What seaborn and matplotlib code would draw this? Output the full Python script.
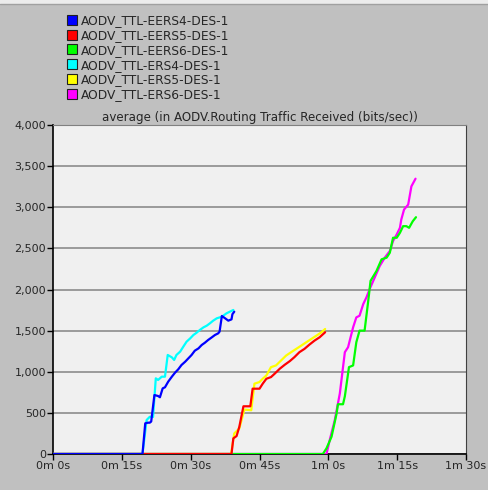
import numpy as np
import pandas as pd
import matplotlib
matplotlib.use("Agg")
import matplotlib.pyplot as plt
import seaborn as sns
from matplotlib.lines import Line2D
from matplotlib.ticker import FuncFormatter

# ── DATA (time in seconds, bits/sec) ──────────────────────────────
eers4_t = [0, 19.5, 20.1, 20.6, 21.1, 21.4, 22.1, 22.9, 23.3, 23.9, 24.4, 25.1, 25.9, 26.6, 27.3,
           28.0, 28.8, 29.5, 30.2, 30.9, 31.7, 32.4, 33.1, 33.8, 34.6, 35.3, 36.0, 36.3, 36.8,
           37.5, 38.2, 38.9, 39.1, 39.5]
eers4_v = [0, 0, 373, 380, 381, 395, 717, 705, 690, 798, 811, 879, 940, 989, 1030,
           1082, 1122, 1163, 1204, 1256, 1284, 1325, 1353, 1386, 1418, 1447, 1467, 1488, 1678,
           1650, 1621, 1637, 1700, 1730]

eers5_t = [0, 38.9, 39.3, 40.0, 40.6, 41.5, 43.0, 43.5, 45.0, 45.7, 46.5, 47.5, 48.3, 49.4,
           50.5, 51.6, 52.6, 53.7, 54.8, 55.9, 57.0, 58.1, 59.3]
eers5_v = [0, 0, 190, 218, 330, 580, 580, 794, 794, 855, 915, 935, 976, 1036,
           1085, 1129, 1177, 1238, 1278, 1331, 1379, 1419, 1480]

eers6_t = [0, 58.8, 59.6, 60.7, 61.8, 62.1, 63.2, 63.6, 64.5, 65.4, 66.1, 66.8, 67.9, 68.7,
           69.2, 70.5, 71.6, 72.7, 73.4, 74.1, 74.9, 75.6, 76.3, 77.0, 77.6, 78.4, 79.1]
eers6_v = [0, 0, 69, 210, 492, 605, 605, 702, 1056, 1077, 1359, 1500, 1500, 1863,
           2105, 2226, 2367, 2387, 2447, 2629, 2629, 2689, 2770, 2770, 2750, 2830, 2879]

ers4_t = [0, 19.5, 20.4, 21.1, 21.8, 22.4, 22.9, 23.7, 24.4, 25.0, 25.9, 26.4, 26.9, 27.7,
          28.4, 29.1, 29.9, 30.6, 31.3, 32.0, 32.8, 33.5, 34.2, 34.9, 35.7, 36.8, 37.8, 39.3]
ers4_v = [0, 0, 413, 453, 450, 920, 900, 940, 940, 1204, 1175, 1143, 1204, 1244,
          1305, 1365, 1406, 1447, 1475, 1508, 1540, 1560, 1589, 1621, 1650, 1669, 1710, 1751]

ers5_t = [0, 38.8, 39.5, 40.6, 41.7, 43.2, 43.9, 45.0, 45.7, 46.5, 47.5, 48.6, 49.7, 50.8,
          51.9, 53.0, 54.1, 55.2, 56.3, 57.4, 58.5, 59.3]
ers5_v = [0, 0, 250, 310, 540, 532, 855, 875, 915, 955, 1056, 1077, 1137, 1197,
          1238, 1278, 1318, 1359, 1399, 1439, 1480, 1520]

ers6_t = [0, 59.6, 60.3, 61.4, 62.5, 63.6, 64.3, 65.4, 66.1, 66.8, 67.6, 68.3, 69.0, 70.1,
          71.2, 72.3, 73.4, 74.1, 74.9, 75.6, 75.9, 76.5, 77.4, 78.1, 79.0]
ers6_v = [0, 0, 169, 411, 734, 1238, 1298, 1540, 1661, 1681, 1822, 1903, 2004, 2145,
          2286, 2387, 2468, 2589, 2669, 2750, 2851, 2972, 3032, 3254, 3347]

names = ["AODV_TTL-EERS4-DES-1", "AODV_TTL-EERS5-DES-1", "AODV_TTL-EERS6-DES-1",
         "AODV_TTL-ERS4-DES-1", "AODV_TTL-ERS5-DES-1", "AODV_TTL-ERS6-DES-1"]
colors = ["#0000ff", "#ff0000", "#00ff00", "#00ffff", "#ffff00", "#ff00ff"]
series = [(eers4_t, eers4_v), (eers5_t, eers5_v), (eers6_t, eers6_v),
          (ers4_t, ers4_v), (ers5_t, ers5_v), (ers6_t, ers6_v)]

x_ticks = [0, 15, 30, 45, 60, 75, 90]
x_labels = ["0m 0s", "0m 15s", "0m 30s", "0m 45s", "1m 0s", "1m 15s", "1m 30s"]

df = pd.concat([pd.DataFrame({"t": t, "v": v, "series": n})
                for n, (t, v) in zip(names, series)], ignore_index=True)

# ── PLOT ──────────────────────────────────────────────────────────
sns.set_style("white")
plt.rcParams["font.family"] = ["DejaVu Sans"]

BG = "#c0c0c0"
fig = plt.figure(figsize=(4.88, 4.90), dpi=100, facecolor=BG)
ax = fig.add_axes([53 / 488, 1 - 454 / 490, 413 / 488, 329 / 490])
ax.set_facecolor("#f0f0f0")

# ERS series underneath, then EERS6, EERS5, EERS4 on top
draw_order = [5, 4, 3, 2, 1, 0]
for i in draw_order:
    sns.lineplot(data=df[df["series"] == names[i]], x="t", y="v", color=colors[i],
                 lw=1.6, ax=ax, legend=False, estimator=None, sort=False, zorder=3 + (5 - i))

ax.set_xlim(0, 90)
ax.set_ylim(0, 4000)
ax.set_xticks(x_ticks)
ax.set_xticklabels(x_labels)
ax.set_yticks(np.arange(0, 4001, 500))
ax.yaxis.set_major_formatter(FuncFormatter(lambda y, _: f"{int(y):,}"))
ax.set_xlabel("")
ax.set_ylabel("")
ax.grid(axis="y", color="#8c8c8c", lw=1.2)
ax.grid(axis="x", visible=False)
ax.tick_params(axis="both", direction="out", length=4, width=1, color="black",
               labelsize=8, pad=1, left=True, bottom=True)
for side, sp in ax.spines.items():
    sp.set_color("black")
    sp.set_linewidth(1.2 if side in ("left", "bottom") else 0.8)
ax.spines["top"].set_color("#808080")
ax.spines["right"].set_color("#404040")

ax.set_title("average (in AODV.Routing Traffic Received (bits/sec))", fontsize=8.6, pad=3)

# legend block above the plot
handles = [Line2D([0], [0], marker="s", linestyle="none", markersize=7,
                  markerfacecolor=c, markeredgecolor="#202020", markeredgewidth=0.8)
           for c in colors]
fig.legend(handles, names, loc="upper left", bbox_to_anchor=(60 / 488, 1 - 8 / 490),
           frameon=False, fontsize=8.8, handlelength=0.9, handletextpad=0.3,
           labelspacing=0.15, borderpad=0)

# light band at the very top of the window
fig.patches.append(plt.Rectangle((0, 1 - 4 / 490), 1, 4 / 490, transform=fig.transFigure,
                                 facecolor="#ececec", edgecolor="none"))
fig.lines.append(Line2D([0, 1], [1 - 4.5 / 490] * 2, transform=fig.transFigure,
                        color="#a0a0a0", lw=1))

fig.savefig("out.png", dpi=100, facecolor=BG)
